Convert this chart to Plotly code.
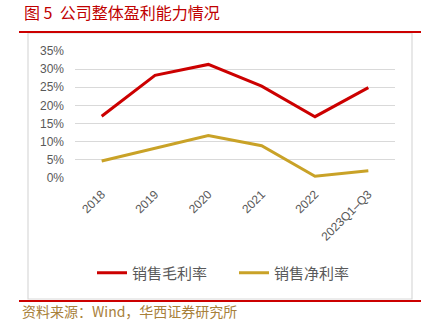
import plotly.graph_objects as go

# Profitability data (ratios)
years = ["2018", "2019", "2020", "2021", "2022", "2023Q1–Q3"]
gross_margin = [0.170, 0.283, 0.313, 0.253, 0.169, 0.249]
net_margin = [0.047, 0.083, 0.117, 0.089, 0.005, 0.020]
y_ticks = [0, 0.05, 0.10, 0.15, 0.20, 0.25, 0.30, 0.35]
y_tick_text = ["0%", "5%", "10%", "15%", "20%", "25%", "30%", "35%"]

W, H = 433, 327
L, R, T, B = 75, 38, 51, 149
pw, ph = W - L - R, H - T - B


def px_x(p):
    return (p - L) / pw


def px_y(p):
    return (H - B - p) / ph


fig = go.Figure()
fig.add_trace(go.Scatter(x=years, y=gross_margin, name="销售毛利率", mode="lines",
                         line=dict(color="#CC0000", width=3)))
fig.add_trace(go.Scatter(x=years, y=net_margin, name="销售净利率", mode="lines",
                         line=dict(color="#C9A227", width=3)))

shapes = [
    # outer frame of the chart area
    dict(type="rect", xref="paper", yref="paper", x0=px_x(28), x1=px_x(412),
         y0=px_y(299), y1=px_y(33), line=dict(color="#D9D9D9", width=1.2), layer="below"),
    # red rules above and below
    dict(type="line", xref="paper", yref="paper", x0=px_x(19), x1=px_x(421),
         y0=px_y(32), y1=px_y(32), line=dict(color="#CC0000", width=2.2)),
    dict(type="line", xref="paper", yref="paper", x0=px_x(19), x1=px_x(421),
         y0=px_y(301), y1=px_y(301), line=dict(color="#CC0000", width=2.2)),
]

annotations = [
    dict(text="图 5  公司整体盈利能力情况", xref="paper", yref="paper",
         x=px_x(22), y=px_y(12), xanchor="left", yanchor="middle", align="left",
         showarrow=False,
         font=dict(family="Noto Sans CJK SC", size=16, color="#C00000")),
    dict(text="资料来源：Wind，华西证券研究所", xref="paper", yref="paper",
         x=px_x(20), y=px_y(311), xanchor="left", yanchor="middle", align="left",
         showarrow=False,
         font=dict(family="Noto Sans CJK SC", size=14, color="#A8803A")),
]

fig.update_layout(
    width=W, height=H,
    margin=dict(l=L, r=R, t=T, b=B, autoexpand=False),
    paper_bgcolor="white", plot_bgcolor="white",
    showlegend=True,
    legend=dict(orientation="h", xref="paper", yref="paper", x=px_x(92), y=px_y(273),
                xanchor="left", yanchor="middle",
                font=dict(family="Noto Sans CJK SC", size=15, color="#595959"),
                itemwidth=30, entrywidth=97, tracegroupgap=0),
    shapes=shapes,
    annotations=annotations,
    xaxis=dict(type="category", range=[-0.5, 5.5], showgrid=False, showline=False,
               zeroline=False, tickangle=-45, ticklabelstandoff=6,
               tickfont=dict(family="Liberation Sans", size=12, color="#595959")),
    yaxis=dict(range=[0, 0.35], tickvals=y_ticks, ticktext=y_tick_text,
               showgrid=True, gridcolor="#D9D9D9", gridwidth=1, zeroline=False,
               showline=False, ticklabelstandoff=10,
               tickfont=dict(family="Liberation Sans", size=12, color="#595959")),
)

fig.write_html("out.html")
